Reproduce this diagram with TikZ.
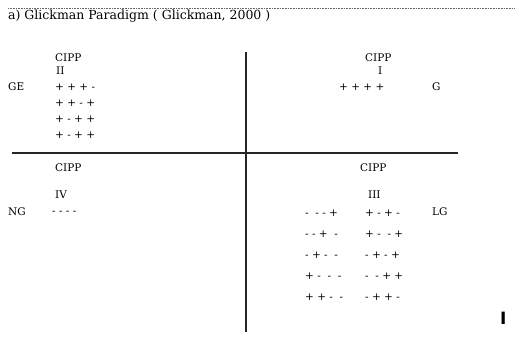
\documentclass[tikz,border=0pt]{standalone}
\usepackage{fontspec}
\setmainfont{DejaVu Serif}
\setsansfont{DejaVu Sans}
\usepackage{tikz}
\usetikzlibrary{calc}

\tikzset{
    axis/.style={line width=1.2pt, black!85},
    lbl/.style={anchor=west, inner sep=0pt}
}

\begin{document}
\begin{tikzpicture}[x=1pt, y=-1pt, font=\fontsize{10.5}{12}\selectfont]
    \useasboundingbox (0, 0) rectangle (515, 339);
\coordinate (dotl) at (8, 9);
\coordinate (dotr) at (515, 9);
\draw[black!60, dash pattern=on .8pt off .8pt, line width=1pt] (dotl) -- (dotr);
\node[anchor=base west, inner sep=0pt, font=\fontsize{12.5}{14}\selectfont] (title) at (8, 20) {a) Glickman Paradigm ( Glickman, 2000 )};
% axes
\coordinate (west) at (12, 153);
\coordinate (east) at (458, 153);
\coordinate (north) at (246, 52);
\coordinate (south) at (246, 332);
\draw[axis] (west) -- (east);
\draw[axis] (north) -- (south);
% quadrant II
\node[lbl] (cippII) at (55, 58) {CIPP};
\node[lbl] (numII) at (56, 71) {II};
\node[lbl] (ge) at (8, 87) {GE};
\foreach \s [count=\i] in {{+ + + -}, {+ + - +}, {+ - + +}, {+ - + +}}
    \node[lbl] (rowII\i) at (55, 71+16*\i) {\s};
% quadrant I
\node[lbl] (cippI) at (365, 58) {CIPP};
\node[lbl] (numI) at (378, 71) {I};
\node[lbl] (rowI) at (339, 87) {+ + + +};
\node[lbl] (g) at (432, 87) {G};
% quadrant IV
\node[lbl] (cippIV) at (55, 168) {CIPP};
\node[lbl] (numIV) at (55, 195) {IV};
\node[lbl] (ng) at (8, 212) {NG};
\node[lbl] (rowIV) at (52, 213) {- - - -};
% quadrant III
\node[lbl] (cippIII) at (360, 168) {CIPP};
\node[lbl] (numIII) at (368, 195) {III};
\node[lbl] (lg) at (432, 212) {LG};
\foreach \s [count=\i] in {{-\ \ - - +}, {- - + \ -}, {- + - \ -}, {+ - \ - \ -}, {+ + - \ -}}
    \node[lbl] (rowIIIa\i) at (305, 192+21*\i) {\s};
\foreach \s [count=\i] in {{+ - + -}, {+ - \ - +}, {- + - +}, {- \ - + +}, {- + + -}}
    \node[lbl] (rowIIIb\i) at (365, 192+21*\i) {\s};
\node[lbl, font=\sffamily\bfseries\fontsize{17}{17}\selectfont] (cursor) at (500, 318) {I};
\end{tikzpicture}
\end{document}
